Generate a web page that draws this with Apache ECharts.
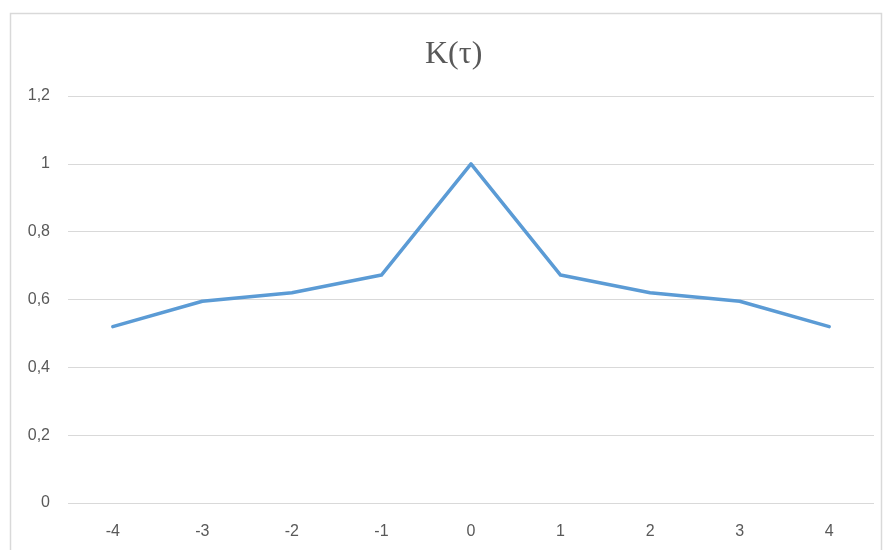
<!DOCTYPE html>
<html>
<head>
<meta charset="utf-8">
<script src="https://cdn.jsdelivr.net/npm/echarts@6/dist/echarts.min.js"></script>
<style>
  html, body { margin: 0; padding: 0; background: #fff; }
  #chart { width: 883px; height: 550px; }
</style>
</head>
<body>
<div id="chart"></div>
<script>
// Lag values and correlation function K(tau)
const lags = ['-4', '-3', '-2', '-1', '0', '1', '2', '3', '4'];
const kValues = [0.52, 0.595, 0.62, 0.672, 1, 0.672, 0.62, 0.595, 0.52];
const yTicks = { min: 0, max: 1.2, step: 0.2 };

const chart = echarts.init(document.getElementById('chart'));
chart.setOption({
  animation: false,
  backgroundColor: '#ffffff',
  title: {
    text: 'K(τ)',
    left: 420,
    top: 34,
    textStyle: { fontFamily: 'Liberation Serif', fontSize: 32, fontWeight: 'normal', color: '#595959' }
  },
  graphic: [{
    type: 'rect',
    shape: { x: 10.5, y: 13.5, width: 871, height: 560 },
    style: { fill: 'none', stroke: '#d9d9d9', lineWidth: 1.5 },
    silent: true
  }],
  grid: { left: 68, right: 9, top: 96, bottom: 47 },
  xAxis: {
    type: 'category',
    data: lags,
    boundaryGap: true,
    axisLine: { show: false },
    axisTick: { show: false },
    axisLabel: { color: '#595959', fontFamily: 'Liberation Sans', fontSize: 16, margin: 21 }
  },
  yAxis: {
    type: 'value',
    min: yTicks.min,
    max: yTicks.max,
    interval: yTicks.step,
    axisLine: { show: false },
    axisTick: { show: false },
    splitLine: { lineStyle: { color: '#d9d9d9', width: 1 } },
    axisLabel: {
      color: '#595959', fontFamily: 'Liberation Sans', fontSize: 16, margin: 18,
      formatter: v => String(Math.round(v * 10) / 10).replace('.', ',')
    }
  },
  series: [{
    type: 'line',
    data: kValues,
    symbol: 'none',
    lineStyle: { color: '#5b9bd5', width: 3.5, cap: 'round', join: 'round' }
  }]
});
</script>
</body>
</html>
